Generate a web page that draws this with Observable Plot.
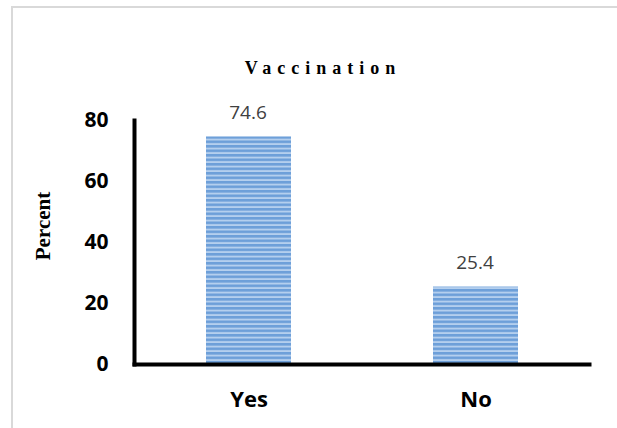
<!DOCTYPE html>
<html>
<head>
<meta charset="utf-8">
<script src="https://cdn.jsdelivr.net/npm/d3@7"></script>
<script src="https://cdn.jsdelivr.net/npm/@observablehq/plot@0.6"></script>
<style>
  html, body { margin: 0; padding: 0; background: #fff; }
  #wrap { position: relative; width: 617px; height: 428px; overflow: hidden; }
  #border { position: absolute; left: 11px; top: 6px; right: 0; bottom: -2px;
            border-left: 2px solid #d9d9d9; border-top: 2px solid #d9d9d9; }
  #title { position: absolute; left: 0; top: 0; width: 617px; height: 100px; }
  #title div { position: absolute; left: 0; width: 646px; top: 57px; text-align: center;
               font-family: "Liberation Serif", "Times New Roman", serif; font-weight: bold;
               font-size: 18px; letter-spacing: 6px; color: #000; line-height: 22px; }
  #ylabel { position: absolute; left: 43px; top: 226px; transform: translate(-50%, -50%) rotate(-90deg);
            font-family: "Liberation Serif", serif; font-weight: bold; font-size: 21px; white-space: nowrap; color: #000; }
  #chart { position: absolute; left: 0; top: 100px; }
</style>
</head>
<body>
<div id="wrap">
  <div id="border"></div>
  <div id="title"><div>Vaccination</div></div>
  <div id="ylabel">Percent</div>
  <div id="chart"></div>
</div>
<script>
const categories = ["Yes", "No"];
const percents = [74.6, 25.4];
const yTicks = [0, 20, 40, 60, 80];

const data = categories.map((c, i) => ({category: c, value: percents[i]}));

const plot = Plot.plot({
  width: 617,
  height: 328,
  marginLeft: 134,
  marginRight: 28,
  marginTop: 20,
  marginBottom: 64,
  style: {background: "transparent", overflow: "visible"},
  x: {domain: categories, padding: 0},
  y: {domain: [0, 80]},
  marks: [
    Plot.barY(data, {x: "category", y: "value", fill: "url(#stripes)", insetLeft: 71, insetRight: 71}),
    Plot.text(data, {x: "category", y: "value", text: d => d.value.toFixed(1), dy: -24, dx: -1,
      fill: "#404040", fontSize: 19, fontFamily: "Open Sans"}),
    Plot.axisY({ticks: yTicks, tickSize: 0, tickPadding: 26, label: null,
      fontSize: 21, fontWeight: "bold", fontFamily: "Open Sans", fill: "#000"}),
    Plot.axisX({tickSize: 0, tickPadding: 27, label: null,
      fontSize: 22, fontWeight: "bold", fontFamily: "Open Sans", fill: "#000"}),
    Plot.frame({anchor: "left", stroke: "#000", strokeWidth: 4}),
    Plot.frame({anchor: "bottom", stroke: "#000", strokeWidth: 4})
  ]
});

const ns = "http://www.w3.org/2000/svg";
const defs = document.createElementNS(ns, "defs");
defs.innerHTML = `<pattern id="stripes" patternUnits="userSpaceOnUse" x="0" y="0" width="8" height="4.5">
  <rect width="8" height="4.5" fill="#6d9fd9"></rect>
  <rect y="2.6" width="8" height="1.9" fill="#b4cfee"></rect>
</pattern>`;
plot.insertBefore(defs, plot.firstChild);
document.getElementById("chart").appendChild(plot);
</script>
</body>
</html>
